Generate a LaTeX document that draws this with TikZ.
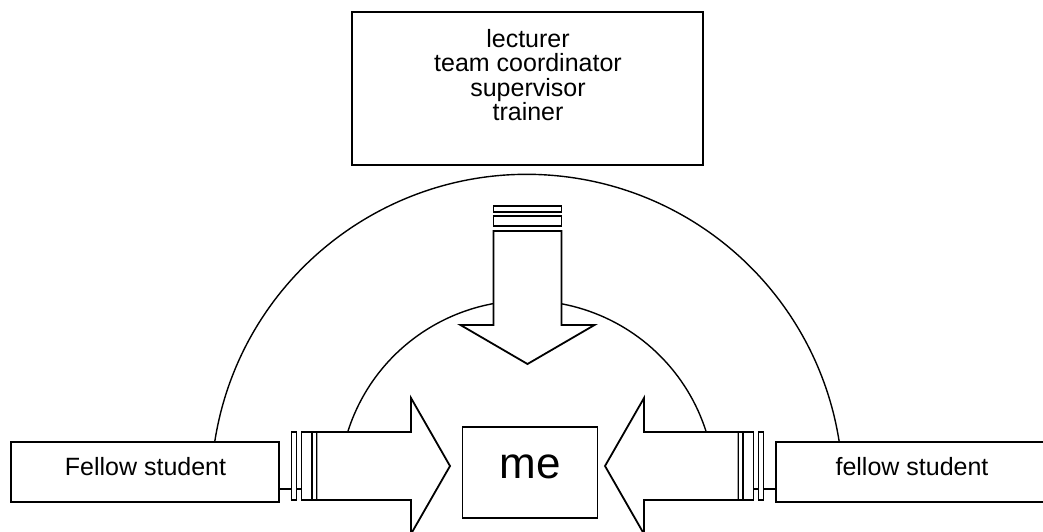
\documentclass[tikz,border=0pt]{standalone}
\usepackage{fontspec}
\setmainfont{Liberation Sans}
\begin{document}
\begin{tikzpicture}[x=1pt,y=1pt,
  outline/.style={draw=black, line width=1.8pt, fill=white, line join=miter},
  boxnode/.style={outline, inner sep=0pt},
  ring/.style={draw=black, line width=1.4pt},
  link/.style={draw=black, line width=1.8pt},
  txt/.style={font=\fontsize{25}{24.2}\selectfont, inner sep=0pt},
  bigtxt/.style={font=\fontsize{44}{44}\selectfont, inner sep=0pt}
]
\useasboundingbox (0,0) rectangle (1043,-531);
\clip (0,0) rectangle (1043,-531);
\fill[white] (0,0) rectangle (1043,-531);

% anchor points of the two arcs and the arrow tails
\coordinate (outerL) at (214.7,-442);
\coordinate (innerL) at (347.7,-432);
\coordinate (tailL) at (316.5,-489.3);
\coordinate (tailR) at (738.5,-489.3);

% outer and inner arcs
\draw[ring] (outerL) arc[start angle=171.2, end angle=8.8, radius=316];
\draw[ring] (innerL) arc[start angle=162.48, end angle=17.52, radius=188];

% boxes
\node[boxnode, minimum width=351.3, minimum height=153.3] (roles) at (527.4,-88.4) {};
\node[boxnode, minimum width=268, minimum height=60] (peerL) at (145,-472) {};
\node[boxnode, minimum width=268, minimum height=60] (peerR) at (910,-472) {};
\node[boxnode, minimum width=135, minimum height=91] (me) at (530,-472.5) {};

% links from the fellow-student boxes into the striped arrows
\draw[link] (peerL.east |- tailL) -- (tailL);
\draw[link] (tailR) -- (peerR.west |- tailR);

% striped arrow from the left
\draw[outline] (316.5,-432) -- (411,-432) -- (411,-398) -- (450,-466)
  -- (411,-534) -- (411,-500) -- (316.5,-500) -- cycle;
\draw[outline] (291.5,-432) rectangle (296.5,-500);
\draw[outline] (301.5,-432) rectangle (311.5,-500);
\draw[outline] (312.5,-432) rectangle (316.5,-500);

% striped arrow from the right
\draw[outline] (738.5,-432) -- (644,-432) -- (644,-398) -- (605,-466)
  -- (644,-534) -- (644,-500) -- (738.5,-500) -- cycle;
\draw[outline] (758.5,-432) rectangle (763.5,-500);
\draw[outline] (743.5,-432) rectangle (753.5,-500);
\draw[outline] (738.5,-432) rectangle (742.5,-500);

% striped arrow from above
\draw[outline] (493.5,-231) -- (561.5,-231) -- (561.5,-325) -- (594.5,-325)
  -- (527.5,-364) -- (460.5,-325) -- (493.5,-325) -- cycle;
\draw[outline] (493.5,-206) rectangle (561.5,-211.7);
\draw[outline] (493.5,-216) rectangle (561.5,-226);

% texts
\node[txt, align=center] (rolesText) at (528,-75) {lecturer\\team coordinator\\supervisor\\trainer};
\node[txt, anchor=base] (peerLText) at (145.5,-475) {Fellow student};
\node[txt, anchor=base] (peerRText) at (912,-475) {fellow student};
\node[bigtxt, anchor=base] (meText) at (530,-478.3) {me};
\end{tikzpicture}
\end{document}
